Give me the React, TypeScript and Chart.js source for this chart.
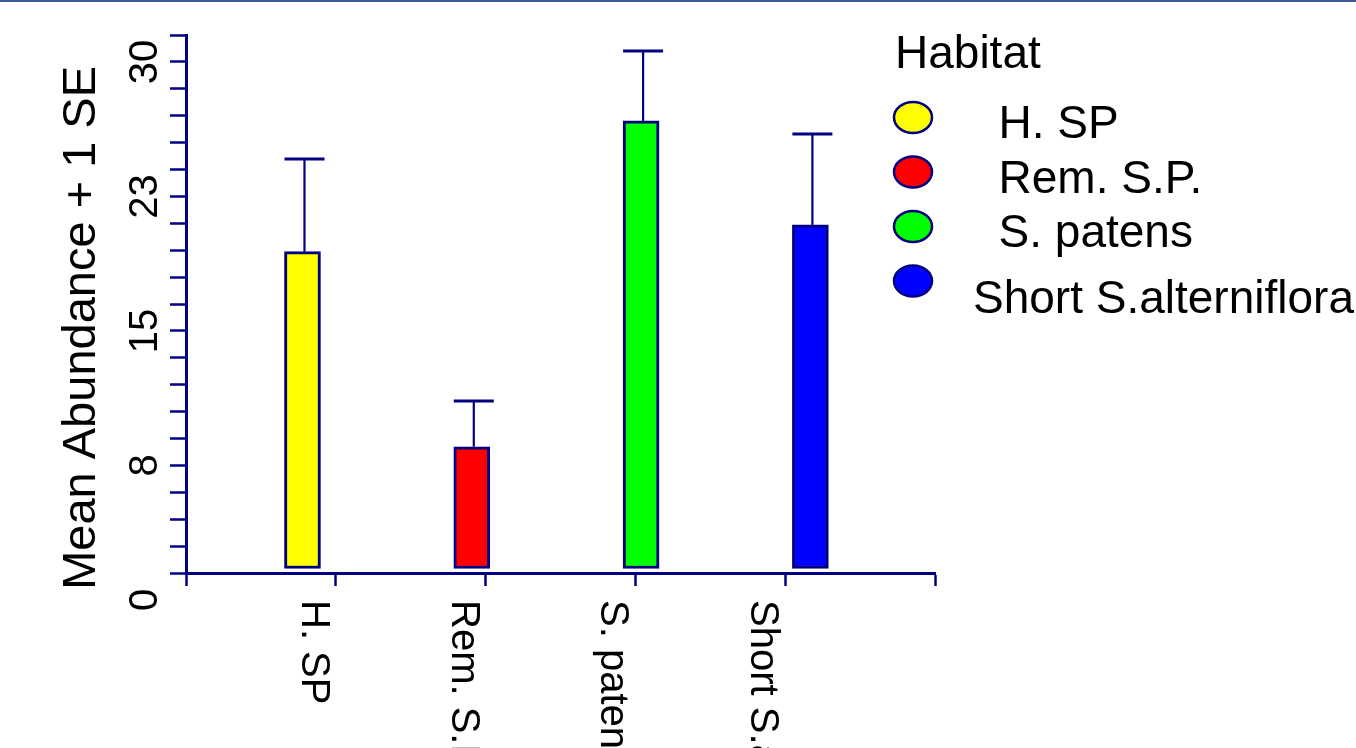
import React, { useEffect, useRef } from "react";
import { Chart, registerables } from "chart.js";

Chart.register(...registerables);

// ---- data ----
const CATEGORIES = ["H. SP", "Rem. S.P.", "S. patens", "Short S.alterniflora"];
const LEGEND_LABELS = ["  H. SP", "  Rem. S.P.", "  S. patens", "Short S.alterniflora"];
const MEANS = [19.42, 8.54, 26.71, 20.91];
const SE = [5.17, 2.55, 3.9, 5.07];
const COLORS = ["#ffff00", "#ff0000", "#00ff00", "#0000ff"];
const Y_TICK_VALUES = [0, 7.5, 15, 22.5, 30];
const Y_TICK_LABELS = ["0", "8", "15", "23", "30"];
const BAR_BASE = 1.75;
const LEGEND_TITLE = "Habitat";
const Y_TITLE = "Mean Abundance + 1 SE";

const NAVY = "#000080";
const FONT = "'Liberation Sans', Arial, sans-serif";

const decorPlugin = {
  id: "decor",
  beforeDraw(chart: any) {
    const { ctx, width, height } = chart;
    ctx.save();
    ctx.fillStyle = "#ffffff";
    ctx.fillRect(0, 0, width, height);
    ctx.fillStyle = "#3b5a94";
    ctx.fillRect(0, 0, width, 2);
    ctx.restore();
  },
  afterDatasetsDraw(chart: any) {
    const { ctx } = chart;
    const yScale = chart.scales.y;
    const meta = chart.getDatasetMeta(0);
    ctx.save();
    ctx.strokeStyle = NAVY;
    meta.data.forEach((el: any, i: number) => {
      const x = el.x + 2;
      const yTop = yScale.getPixelForValue(MEANS[i] + SE[i]);
      ctx.lineWidth = 2.2;
      ctx.beginPath();
      ctx.moveTo(x, el.y);
      ctx.lineTo(x, yTop);
      ctx.stroke();
      ctx.lineWidth = 3;
      ctx.beginPath();
      ctx.moveTo(x - 20, yTop);
      ctx.lineTo(x + 20, yTop);
      ctx.stroke();
    });
    ctx.restore();
  },
  afterDraw(chart: any) {
    const { ctx, chartArea } = chart;
    const yScale = chart.scales.y;
    const xt = chart.scales.xt;
    ctx.save();
    ctx.fillStyle = "#000000";

    // y tick labels (rotated, reading bottom to top)
    ctx.font = `40px ${FONT}`;
    ctx.textAlign = "center";
    ctx.textBaseline = "alphabetic";
    Y_TICK_VALUES.forEach((v, i) => {
      const py = yScale.getPixelForValue(v);
      ctx.save();
      ctx.translate(chartArea.left - 29, py);
      ctx.rotate(-Math.PI / 2);
      ctx.fillText(Y_TICK_LABELS[i], 0, 0);
      ctx.restore();
    });

    // y axis title
    ctx.font = `47px ${FONT}`;
    const midY =
      (yScale.getPixelForValue(Y_TICK_VALUES[0]) +
        yScale.getPixelForValue(Y_TICK_VALUES[Y_TICK_VALUES.length - 1])) /
      2 - 3;
    ctx.save();
    ctx.translate(chartArea.left - 91, midY);
    ctx.rotate(-Math.PI / 2);
    ctx.fillText(Y_TITLE, 0, 0);
    ctx.restore();

    // x category labels (rotated, reading top to bottom)
    ctx.font = `40px ${FONT}`;
    ctx.textAlign = "left";
    CATEGORIES.forEach((c, i) => {
      const px = xt.getPixelForValue(i + 1) - 34;
      ctx.save();
      ctx.translate(px, chartArea.bottom + 27);
      ctx.rotate(Math.PI / 2);
      ctx.fillText(c, 0, 0);
      ctx.restore();
    });

    // legend
    const lx = chartArea.right - 40;
    ctx.font = `46px ${FONT}`;
    ctx.textAlign = "left";
    ctx.fillText(LEGEND_TITLE, lx, 68);
    LEGEND_LABELS.forEach((lab, i) => {
      const cy = 117.5 + 54.5 * i;
      ctx.beginPath();
      ctx.ellipse(lx + 18, cy, 19, 15.5, 0, 0, Math.PI * 2);
      ctx.fillStyle = COLORS[i];
      ctx.fill();
      ctx.lineWidth = 2.5;
      ctx.strokeStyle = NAVY;
      ctx.stroke();
      ctx.fillStyle = "#000000";
      const extra = i === LEGEND_LABELS.length - 1 ? 11 : 0;
      ctx.fillText(lab, lx + 78, cy + 20.5 + extra);
    });
    ctx.restore();
  },
};

export default function App() {
  const canvasRef = useRef<HTMLCanvasElement | null>(null);

  useEffect(() => {
    document.body.style.margin = "0";
    document.body.style.overflow = "hidden";
    const canvas = canvasRef.current;
    if (!canvas) return;
    const chart = new Chart(canvas, {
      type: "bar",
      data: {
        datasets: [
          {
            label: "Habitat",
            data: MEANS.map((m, i) => ({ x: i, y: m })),
            base: BAR_BASE,
            backgroundColor: COLORS,
            borderColor: NAVY,
            borderWidth: 3,
            borderSkipped: false,
            barThickness: 36,
            xAxisID: "x",
            yAxisID: "y",
          } as any,
        ],
      },
      options: {
        animation: false,
        responsive: true,
        maintainAspectRatio: false,
        layout: { padding: { top: 35, right: 421, left: 0, bottom: 0 } },
        plugins: {
          legend: { display: false },
          tooltip: { enabled: false },
          title: { display: false },
        },
        scales: {
          x: {
            type: "linear",
            min: -0.688,
            max: 3.736,
            offset: false,
            grid: { offset: false },
            display: false,
          },
          xt: {
            type: "linear",
            axis: "x",
            position: "bottom",
            min: 0,
            max: 5,
            offset: false,
            ticks: { display: false, stepSize: 1 },
            grid: {
              offset: false,
              drawOnChartArea: false,
              drawTicks: true,
              tickLength: 13,
              tickColor: NAVY,
              tickWidth: 2.5,
            },
            border: { display: true, color: NAVY, width: 3 },
            afterFit: (s: any) => {
              s.height = 175;
            },
          } as any,
          y: {
            type: "linear",
            min: 1.5,
            max: 31.5,
            ticks: { display: false, stepSize: 1.5 },
            grid: {
              drawOnChartArea: false,
              drawTicks: true,
              tickLength: 16,
              tickColor: NAVY,
              tickWidth: 2.5,
            },
            border: { display: true, color: NAVY, width: 3 },
            afterFit: (s: any) => {
              s.width = 186;
            },
          },
        },
      },
      plugins: [decorPlugin],
    });
    return () => chart.destroy();
  }, []);

  return (
    <div style={{ width: 1356, height: 748, position: "relative", overflow: "hidden" }}>
      <canvas ref={canvasRef} />
    </div>
  );
}
